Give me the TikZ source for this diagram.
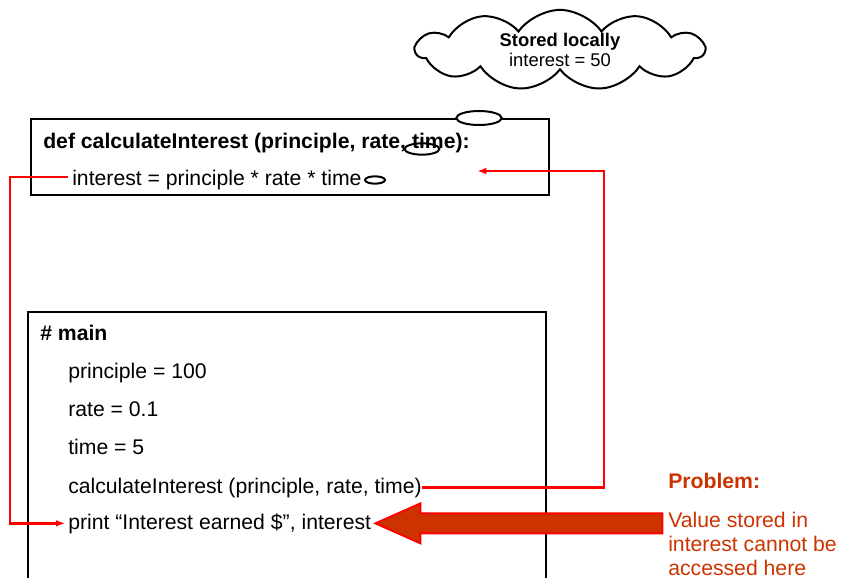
\documentclass[tikz,border=0pt]{standalone}
\usepackage{fontspec}
\setmainfont{Liberation Sans}
\usetikzlibrary{positioning, arrows.meta, calc, shapes.symbols, shapes.geometric}
\definecolor{probred}{RGB}{204,51,0}

\begin{document}
\begin{tikzpicture}[x=0.75pt, y=-0.75pt, font=\fontsize{15.9}{18.75}\selectfont,
  >={Latex[length=7pt, width=5pt]},
  box/.style={draw, line width=1.5pt},
  code/.style={anchor=base west, inner sep=0pt},
  bubble/.style={draw, ellipse, line width=1.5pt, inner sep=0pt},
  wire/.style={draw=red, line width=1.9pt},
  note/.style={anchor=base west, inner sep=0pt, text=probred}]
  \useasboundingbox (0,0) rectangle (843,578);
  % function box
  \draw[box] (31,119) rectangle (549,195);
  \node[code] (head) at (43,148) {\textbf{def calculateInterest (principle, rate, time):}};
  \node[code] (ibody) at (72,185) {interest = principle * rate * time};
  % main box, running off the bottom
  \draw[box] (28,578) -- (28,312) -- (546,312) -- (546,578);
  \node[code] (main) at (40,340) {\textbf{\# main}};
  \node[code] (prin) at (68,378) {principle = 100};
  \node[code] (rate) at (68,416) {rate = 0.1};
  \node[code] (time) at (68,454) {time = 5};
  \node[code] (call) at (68,493) {calculateInterest (principle, rate, time)};
  \node[code] (print) at (68,529) {print “Interest earned \$”, interest};
  % thought cloud
  \node[cloud, draw, line width=1.5pt, cloud puffs=11, cloud puff arc=110, aspect=5,
    minimum width=216pt, minimum height=42pt, inner sep=0pt, align=center,
    font=\fontsize{13.8}{15}\selectfont, fill=white] (local) at (560,50)
    {\textbf{Stored locally}\\interest = 50};
  \node[bubble, fill=white, minimum width=34pt, minimum height=10.5pt] (b1) at (479,118) {};
  \node[bubble, minimum width=26pt, minimum height=8.5pt] (b2) at (422,149) {};
  \node[bubble, minimum width=15pt, minimum height=5.5pt] (b3) at (375,180) {};
  % calls
  \coordinate (rt) at (604,171);
  \coordinate (back) at (477,171);
  \coordinate (lt) at (10,177);
  \draw[wire, ->] (call.east) -| (rt) -- (back);
  \draw[wire, ->] ([xshift=-3pt]ibody.west |- lt) -- (lt) |- ([xshift=-2pt]print.west);
  % problem arrow
  \coordinate (tip) at ($(print.east)+(4,0)$);
  \draw[red, line width=1.4pt, fill=probred] (tip) -- ++(45,-20) -- ++(0,10) -- ++(242,0)
    -- ++(0,20) -- ++(-242,0) -- ++(0,10) -- cycle;
  \node[note] (prob) at (668,488) {\textbf{Problem:}};
  \node[note] (val1) at (668,527) {Value stored in};
  \node[note] (val2) at (668,551) {interest cannot be};
  \node[note] (val3) at (668,575) {accessed here};
\end{tikzpicture}
\end{document}
